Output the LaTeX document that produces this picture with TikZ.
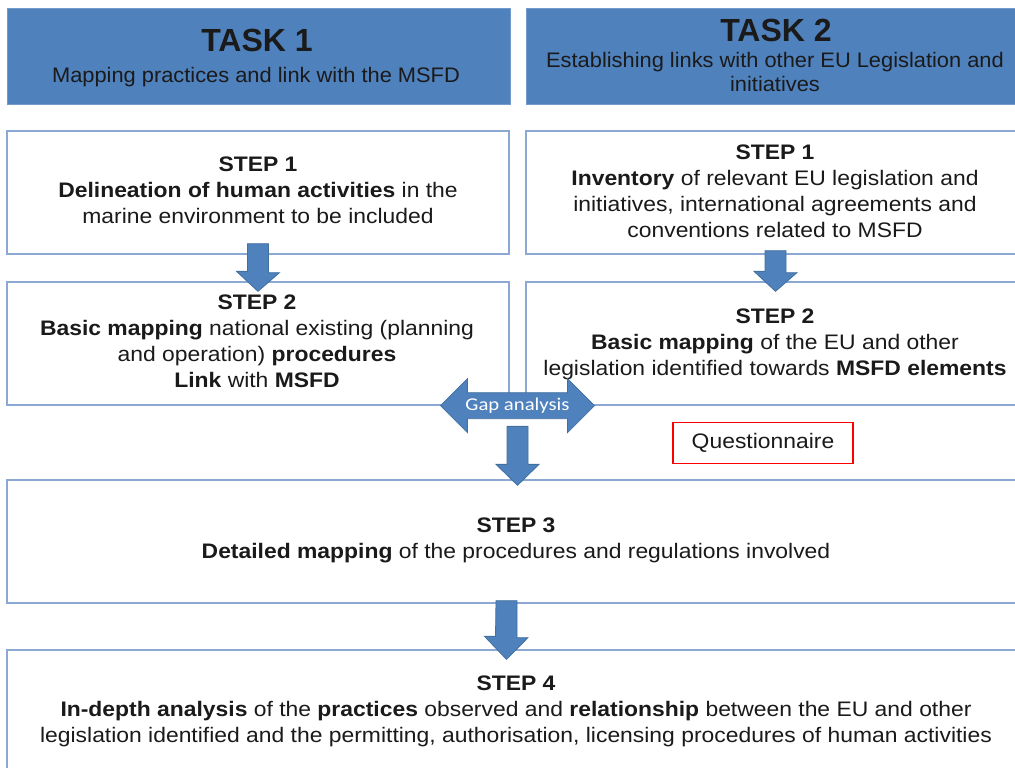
\documentclass[tikz,border=0pt]{standalone}
\usepackage{fontspec}
\setmainfont[FakeStretch=1.09]{Liberation Sans}
\newfontfamily\hdrfont{Liberation Sans}
\newfontfamily\subfont[FakeStretch=1.04]{Liberation Sans}
\newfontfamily\gapfont[FakeStretch=1.15]{Carlito}
\usetikzlibrary{calc}
\definecolor{hdrblue}{HTML}{4F81BD}
\definecolor{boxline}{HTML}{8BA9D3}
\definecolor{arrline}{HTML}{41709F}
\definecolor{txt}{HTML}{1A1A1A}
\definecolor{qred}{HTML}{FF0000}
\tikzset{
  hdrbox/.style={draw=hdrblue!80!white, fill=hdrblue, line width=0.8pt, inner sep=0pt},
  stepbox/.style={draw=boxline, fill=white, line width=1.3pt, inner sep=0pt},
  steptext/.style={align=center, text=txt, font=\fontsize{21}{26}\selectfont, inner sep=0pt},
  blockarrow/.style={fill=hdrblue, draw=arrline, line width=0.8pt, line join=miter},
}
\begin{document}
\begin{tikzpicture}[x=1pt,y=-1pt]
\useasboundingbox[fill=white] (0,0) rectangle (1015,768);

% headers
\node[hdrbox, minimum width=503, minimum height=96] (t1) at (258.5,56) {};
\node[hdrbox, minimum width=499, minimum height=96] (t2) at (775.5,56) {};
\node[text=txt, font=\hdrfont\fontsize{32}{32}\selectfont\bfseries, inner sep=0pt] (t1a) at (257,40) {TASK 1};
\node[text=txt, font=\subfont\fontsize{21}{24}\selectfont, inner sep=0pt] (t1b) at (256,77) {Mapping practices and link with the MSFD};
\node[text=txt, font=\hdrfont\fontsize{32}{32}\selectfont\bfseries, inner sep=0pt] (t2a) at (776,30) {TASK 2};
\node[text=txt, font=\subfont\fontsize{21}{24}\selectfont, align=center, inner sep=0pt] (t2b) at (775,72) {Establishing links with other EU Legislation and\\initiatives};

% step boxes
\node[stepbox, minimum width=502, minimum height=123] (s1l) at (258,192.5) {};
\node[stepbox, minimum width=499, minimum height=123] (s1r) at (775.5,192.5) {};
\node[stepbox, minimum width=502, minimum height=123] (s2l) at (258,343.5) {};
\node[stepbox, minimum width=499, minimum height=123] (s2r) at (775.5,343.5) {};
\node[stepbox, minimum width=1018, minimum height=123] (s3) at (516,541.5) {};
\node[stepbox, minimum width=1018, minimum height=123] (s4) at (516,711.5) {};

% step texts
\node[steptext] (s1lt) at (258,190) {\textbf{STEP 1}\\\textbf{Delineation of human activities} in the\\marine environment to be included};
\node[steptext] (s1rt) at (775,191.5) {\textbf{STEP 1}\\\textbf{Inventory} of relevant EU legislation and\\initiatives, international agreements and\\conventions related to MSFD};
\node[steptext] (s2lt) at (257,341.5) {\textbf{STEP 2}\\\textbf{Basic mapping} national existing (planning\\and operation) \textbf{procedures}\\\textbf{Link} with \textbf{MSFD}};
\node[steptext] (s2rt) at (775,344) {\textbf{STEP 2}\\\textbf{Basic mapping} of the EU and other\\legislation identified towards \textbf{MSFD elements}};
\node[steptext] (s3t) at (516,540) {\textbf{STEP 3}\\\textbf{Detailed mapping} of the procedures and regulations involved};
\node[steptext] (s4t) at (516,711.5) {\textbf{STEP 4}\\\textbf{In-depth analysis} of the \textbf{practices} observed and \textbf{relationship} between the EU and other\\legislation identified and the permitting, authorisation, licensing procedures of human activities};

% questionnaire
\node[draw=qred, line width=1.8pt, minimum width=180, minimum height=41, text=txt, font=\fontsize{21}{24}\selectfont, inner sep=0pt] (q) at (763,443) {Questionnaire};

% block arrows (shape drawn relative to named boxes)
\draw[blockarrow] ($(s1l.south)+(-10.5,-11)$) -- ++(21,0) -- ++(0,29) -- ++(11,0) -- ($(s2l.north)+(0,10)$) -- ++(-21.5,-20) -- ++(11,0) -- cycle;
\draw[blockarrow] ($(s1r.south)+(-10.5,-4)$) -- ++(21,0) -- ++(0,22) -- ++(11,0) -- ($(s2r.north)+(0,10)$) -- ++(-21.5,-20) -- ++(11,0) -- cycle;
\draw[blockarrow] ($(s3.south)+(-20,-3)$) -- ++(21,0) -- ++(0,37) -- ++(11,0) -- ($(s4.north)+(-9.5,10)$) -- ++(-22,-23) -- ++(11,0) -- cycle;

% gap analysis double arrow
\coordinate (gapc) at ($(s2l.south east)!0.5!(s2r.south west)$);
\draw[blockarrow] ($(gapc)+(-77,0)$) -- ++(27,-27) -- ++(0,14) -- ++(100,0) -- ++(0,-14) -- ++(27,27) -- ++(-27,27) -- ++(0,-14) -- ++(-100,0) -- ++(0,14) -- cycle;
\node[text=white, font=\gapfont\fontsize{18}{18}\selectfont, inner sep=0pt] (gap) at (gapc) {Gap analysis};
\draw[blockarrow] ($(s3.north)+(-9,-53)$) -- ++(21,0) -- ++(0,38) -- ++(11,0) -- ($(s3.north)+(1.5,6)$) -- ++(-21.5,-21) -- ++(11,0) -- cycle;
\end{tikzpicture}
\end{document}
